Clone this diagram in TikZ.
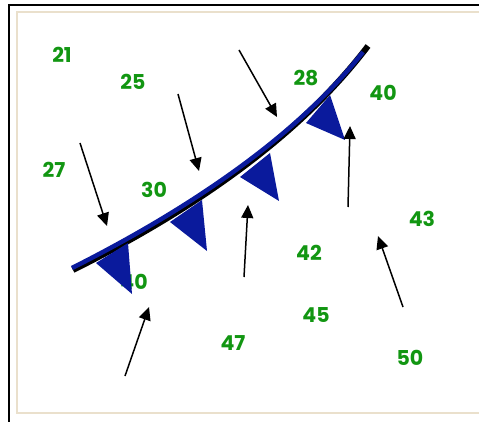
\documentclass[tikz,border=0pt]{standalone}
\usepackage{fontspec}
\newfontfamily\tempfont{Poppins}
\usetikzlibrary{arrows.meta}
\definecolor{frontblue}{RGB}{10,26,156}
\definecolor{tempgreen}{RGB}{18,150,18}
\definecolor{framebeige}{RGB}{234,224,204}

\begin{document}
\begin{tikzpicture}[x=1pt,y=-1pt,>={Triangle[length=13pt,width=12pt]},
  temp/.style={text=tempgreen,font=\tempfont\bfseries\fontsize{20.5}{20.5}\selectfont,inner sep=0pt},
  wind/.style={->,line width=1.5pt},
  pip/.style={fill=frontblue,draw=none}]
\useasboundingbox (0,0) rectangle (479,422);
% frames
\draw[line width=2pt] (9,430) -- (9,5) -- (490,5);
\draw[framebeige,line width=2pt] (490,413) -| (16.5,12.5) -- (490,12.5);
% temperatures
\node[temp] (t21) at (62,55) {21};
\node[temp] (t25) at (133,82) {25};
\node[temp] (t27) at (54,170) {27};
\node[temp] (t30) at (154,190) {30};
\node[temp] (t28) at (306,78) {28};
\node[temp] (t40a) at (383,93) {40};
\node[temp] (t43) at (422,219) {43};
\node[temp] (t42) at (309,253) {42};
\node[temp] (t40b) at (134,282) {40};
\node[temp] (t45) at (316,315) {45};
\node[temp] (t47) at (233,343) {47};
\node[temp] (t50) at (410,358) {50};
% cold front
\draw[line width=6pt] (73,270) .. controls (207,203) and (305,129) .. (368,46);
\draw[frontblue,line width=4.5pt] (72,268) .. controls (207,200) and (304,127) .. (363,52);
\fill[pip] (96,263) -- (128,243) -- (132,294) -- cycle;
\fill[pip] (170,222) -- (202,200) -- (207,251) -- cycle;
\fill[pip] (240,177) -- (270,153) -- (279,201) -- cycle;
\fill[pip] (306,123) -- (330,95) -- (345,140) -- cycle;
% winds
\coordinate (w1s) at (80,143);  \coordinate (w1e) at (107,226);
\coordinate (w2s) at (178,94);  \coordinate (w2e) at (199,171);
\coordinate (w3s) at (239,50);  \coordinate (w3e) at (277,117);
\coordinate (w4s) at (348,207); \coordinate (w4e) at (350,126);
\coordinate (w5s) at (403,307); \coordinate (w5e) at (378,236);
\coordinate (w6s) at (244,277); \coordinate (w6e) at (248,205);
\coordinate (w7s) at (125,376); \coordinate (w7e) at (149,307);
\foreach \i in {1,...,7}
  \draw[wind] (w\i s) -- (w\i e);
\end{tikzpicture}
\end{document}
